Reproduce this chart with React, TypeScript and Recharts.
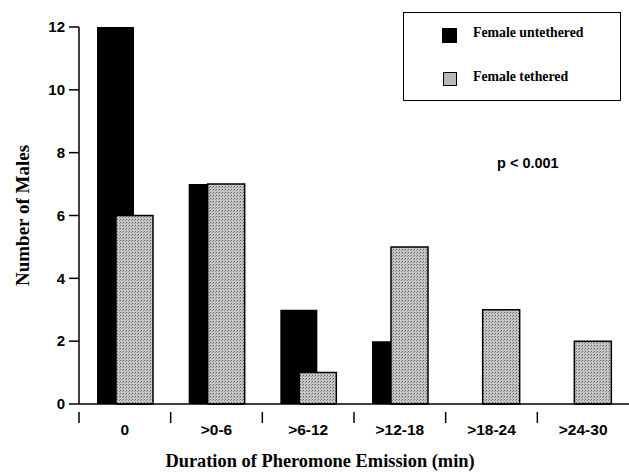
import React from "react";
import { BarChart, Bar, XAxis, YAxis, Label } from "recharts";

const categories = ["0", ">0-6", ">6-12", ">12-18", ">18-24", ">24-30"];
const untethered = [12, 7, 3, 2, 0, 0];
const tethered = [6, 7, 1, 5, 3, 2];
const yTicks = [0, 2, 4, 6, 8, 10, 12];
const seriesNames = ["Female untethered", "Female tethered"];

const data = categories.map((c, i) => ({
  cat: c,
  untethered: untethered[i],
  tethered: tethered[i],
}));

const W = 629;
const H = 474;
const MARGIN = { top: 27, right: 0, left: 0, bottom: 0 };
const YW = 79;
const STEP = (W - MARGIN.left - MARGIN.right - YW) / categories.length;

const SANS = "'Liberation Sans', Arial, sans-serif";
const SERIF = "'Liberation Serif', 'Times New Roman', serif";

const XTick = (props: any) => {
  const { x, y, payload } = props;
  return (
    <g>
      <line x1={x - STEP / 2} y1={y} x2={x - STEP / 2} y2={y + 11} stroke="#000" strokeWidth={1.5} />
      <text x={x} y={y + 23} textAnchor="middle" fontFamily={SANS} fontWeight="bold" fontSize={15.5} fill="#000">
        {payload.value}
      </text>
    </g>
  );
};

const LegendBox = () => (
  <div
    style={{
      position: "absolute",
      left: 403,
      top: 12,
      width: 218,
      height: 89,
      border: "1.5px solid #000",
      boxSizing: "border-box",
      fontFamily: SERIF,
      fontWeight: "bold",
      fontSize: 13.8,
      color: "#000",
      background: "#fff",
    }}
  >
    <div style={{ position: "absolute", left: 38, top: 15, width: 15, height: 15, background: "#000" }} />
    <div style={{ position: "absolute", left: 69, top: 12, whiteSpace: "nowrap" }}>{seriesNames[0]}</div>
    <div
      style={{
        position: "absolute",
        left: 39,
        top: 59,
        width: 14,
        height: 14,
        boxSizing: "border-box",
        border: "1.5px solid #000",
        background: "#b8b8b8",
      }}
    />
    <div style={{ position: "absolute", left: 69, top: 56, whiteSpace: "nowrap" }}>{seriesNames[1]}</div>
  </div>
);

export default function App() {
  return (
    <div style={{ position: "absolute", left: 0, top: 0, width: W, height: H, background: "#fff" }}>
      <BarChart width={W} height={H} data={data} margin={MARGIN} barGap={-18} barSize={37}>
        <defs>
          <pattern id="stipple" width="3" height="3" patternUnits="userSpaceOnUse">
            <rect width="3" height="3" fill="#c6c6c6" />
            <rect x="0" y="0" width="1" height="1" fill="#5e5e5e" />
            <rect x="2" y="1" width="1" height="1" fill="#8a8a8a" />
          </pattern>
        </defs>
        <XAxis
          dataKey="cat"
          height={70}
          tickLine={false}
          tick={<XTick />}
          axisLine={{ stroke: "#000", strokeWidth: 1.5 }}
          interval={0}
        >
          <Label
            content={(p: any) => {
              const vb = p.viewBox;
              return (
                <text
                  x={320}
                  y={vb.y + 63}
                  textAnchor="middle"
                  fontFamily={SERIF}
                  fontWeight="bold"
                  fontSize={18.4}
                  fill="#000"
                >
                  Duration of Pheromone Emission (min)
                </text>
              );
            }}
          />
        </XAxis>
        <YAxis
          width={YW}
          domain={[0, 12]}
          ticks={yTicks}
          interval={0}
          tickSize={10}
          tickMargin={4}
          axisLine={{ stroke: "#000", strokeWidth: 1.5 }}
          tickLine={{ stroke: "#000", strokeWidth: 1.5 }}
          tick={{ fontFamily: SANS, fontWeight: "bold", fontSize: 15, fill: "#000" }}
        >
          <Label
            content={(p: any) => {
              const vb = p.viewBox;
              const cx = 22;
              const cy = vb.y + vb.height / 2;
              return (
                <text
                  x={cx}
                  y={cy}
                  transform={`rotate(-90 ${cx} ${cy})`}
                  textAnchor="middle"
                  dominantBaseline="central"
                  fontFamily={SERIF}
                  fontWeight="bold"
                  fontSize={19}
                  fill="#000"
                >
                  Number of Males
                </text>
              );
            }}
          />
        </YAxis>
        <Bar dataKey="untethered" name={seriesNames[0]} fill="#000" isAnimationActive={false} />
        <Bar
          dataKey="tethered"
          name={seriesNames[1]}
          fill="url(#stipple)"
          stroke="#000"
          strokeWidth={1.5}
          isAnimationActive={false}
        />
      </BarChart>
      <LegendBox />
      <div
        style={{
          position: "absolute",
          left: 497,
          top: 155,
          fontFamily: SANS,
          fontWeight: "bold",
          fontSize: 14.5,
          color: "#000",
          whiteSpace: "nowrap",
        }}
      >
        p &lt; 0.001
      </div>
    </div>
  );
}
